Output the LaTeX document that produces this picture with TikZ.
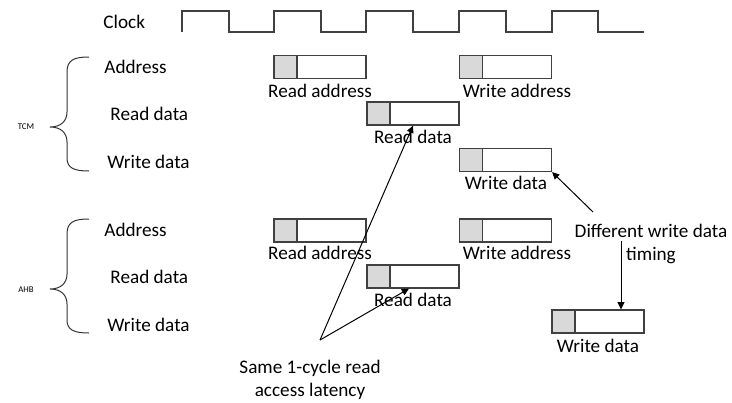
\documentclass[tikz,border=0pt]{standalone}
\usepackage{fontspec}
\setmainfont{Carlito}
\usepackage{tikz}
\usetikzlibrary{arrows.meta}
\usepackage{xcolor}
\definecolor{cSlot}{HTML}{D9D9D9}
\definecolor{cEdge}{HTML}{404040}

\begin{document}
\begin{tikzpicture}[
  x=0.5pt, y=-0.5pt,
  font=\fontsize{9.6}{11.5}\selectfont,
  % -- styles: wire = clock, slot = bus transfer, sig/boxlbl = labels --
  wire/.style={line width=0.6pt, black!75, line join=miter},
  slot/.style={draw=cEdge, line width=0.6pt, minimum width=46pt,
               minimum height=11.5pt, inner sep=0pt,
               path picture={
                 \fill[cSlot] (path picture bounding box.north west)
                   rectangle ([xshift=11.5pt]path picture bounding box.south west);
                 \draw[cEdge, line width=0.6pt]
                   ([xshift=11.5pt]path picture bounding box.north west) --
                   ([xshift=11.5pt]path picture bounding box.south west);}},
  sig/.style={anchor=west, inner sep=0pt, text height=6.6pt, text depth=0pt},
  boxlbl/.style={inner sep=0pt, text height=6.6pt, text depth=0pt},
  bus/.style={font=\fontsize{4.4}{5}\selectfont, inner sep=0pt},
  note/.style={align=center, anchor=north, inner sep=0pt},
  arr/.style={-{Triangle[length=3.6pt,width=3.4pt]}, line width=0.5pt, black},
  brc/.style={line width=0.5pt, black!80},
]
\useasboundingbox (0,0) rectangle (732,402);

% -- clock ---------------------------------------------------
\node[sig] (clk) at (103,22) {Clock};
\draw[wire] (182,32) -- (182,11) -- (229,11) -- (229,32) -- (274,32)
  -- (274,11) -- (321,11) -- (321,32) -- (366,32) -- (366,11) -- (413,11)
  -- (413,32) -- (459,32) -- (459,11) -- (506,11) -- (506,32) -- (552,32)
  -- (552,11) -- (598,11) -- (598,32) -- (644,32);

% -- TCM -----------------------------------------------------
\node[bus] (tcm) at (26,127) {TCM};
\draw[brc] (89,57) .. controls (74,57) and (67,60) .. (67,72) -- (67,112)
  .. controls (67,121) and (61,127) .. (50,127)
  .. controls (61,127) and (67,133) .. (67,142) -- (67,158)
  .. controls (67,168) and (74,171) .. (89,171);
\node[sig] (tAd) at (104,67) {Address};
\node[sig] (tRd) at (110,114) {Read data};
\node[sig] (tWd) at (107,162) {Write data};

\node[slot] (tRA) at (320,67) {};
\node[boxlbl] (tRAl) at (320,91) {Read address};
\node[slot] (tWA) at (505.5,67) {};
\node[boxlbl] (tWAl) at (517,91) {Write address};
\node[slot] (tRD) at (413,113.5) {};
\node[boxlbl] (tRDl) at (413,137) {Read data};
\node[slot] (tWD) at (505.5,160) {};
\node[boxlbl] (tWDl) at (506,183) {Write data};

% -- AHB -----------------------------------------------------
\node[bus] (ahb) at (26,290) {AHB};
\draw[brc] (89,219) .. controls (74,219) and (67,222) .. (67,234) -- (67,274)
  .. controls (67,283) and (61,289) .. (50,289)
  .. controls (61,289) and (67,295) .. (67,304) -- (67,320)
  .. controls (67,330) and (74,333) .. (89,333);
\node[sig] (aAd) at (104,230) {Address};
\node[sig] (aRd) at (110,277) {Read data};
\node[sig] (aWd) at (107,325) {Write data};

\node[slot] (aRA) at (320,230.5) {};
\node[boxlbl] (aRAl) at (320,253) {Read address};
\node[slot] (aWA) at (505.5,230.5) {};
\node[boxlbl] (aWAl) at (517,253) {Write address};
\node[slot] (aRD) at (413,276.5) {};
\node[boxlbl] (aRDl) at (413,300) {Read data};
\node[slot] (aWD) at (598,321.5) {};
\node[boxlbl] (aWDl) at (598,346) {Write data};

% -- notes ---------------------------------------------------
\node[note] (lat) at (310,360) {Same 1-cycle read\\access latency};
\coordinate (latTip) at (320,340);
\draw[arr] (latTip) -- (tRD.south);
\draw[arr] (latTip) -- ([xshift=-2pt]aRD.south);

\node[note] (diff) at (651,224) {Different write data\\timing};
\coordinate (d1) at (593,212);
\coordinate (d2) at (621,241);
\draw[arr] (d1) -- (tWD.south east);
\draw[arr] (d2) -- (d2 |- aWD.north);
\end{tikzpicture}
\end{document}
